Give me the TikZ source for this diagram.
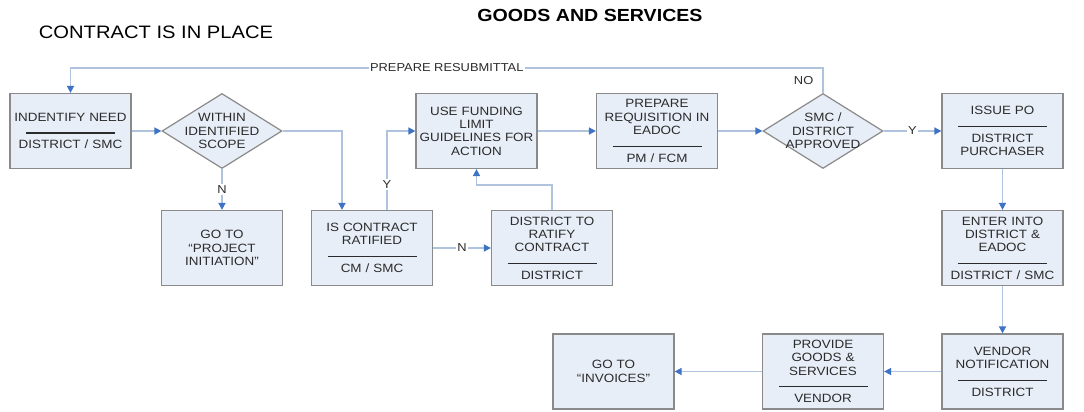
\documentclass[tikz,border=0pt]{standalone}
\usepackage{fontspec}
\setmainfont[FakeStretch=1.12]{Liberation Sans}
\usetikzlibrary{shapes.geometric,arrows.meta}
\definecolor{boxfill}{HTML}{E8EEF7}
\definecolor{boxline}{HTML}{8A8A8A}
\definecolor{flowline}{HTML}{AFC3DE}
\definecolor{tipblue}{HTML}{3D72C4}
\definecolor{txtgray}{HTML}{2B2B2B}
\newcommand{\sepline}{\rule[3pt]{89pt}{1.2pt}}
\tikzstyle{block} = [draw=boxline, fill=boxfill, rectangle, line width=1.2pt, minimum width=121pt, minimum height=75pt, text width=118pt, align=center, inner sep=0pt, font=\fontsize{12}{13.3}\selectfont, text=txtgray]
\tikzstyle{decision} = [draw=boxline, fill=boxfill, diamond, aspect=1.6, line width=1.2pt, minimum width=120pt, minimum height=75pt, inner sep=-4pt, align=center, font=\fontsize{12}{13.3}\selectfont, text=txtgray]
\tikzstyle{flow} = [draw=flowline, line width=1.5pt]
\tikzstyle{answer} = [fill=white, inner sep=1.5pt, font=\fontsize{11.5}{12}\selectfont, text=txtgray]

\begin{document}
\begin{tikzpicture}[x=1pt,y=-1pt,>={Triangle[length=7pt,width=7pt,color=tipblue]}]
	\useasboundingbox (0,0) rectangle (1084,412);
	% titles
	\node [font=\bfseries\fontsize{17.5}{18}\selectfont] (title) at (590,15) {GOODS AND SERVICES};
	\node [font=\fontsize{18}{19}\selectfont] (subtitle) at (156,32) {CONTRACT IS IN PLACE};

	% top row
	\node [block] (need) at (70.5,131) {INDENTIFY NEED\\[2pt]\sepline\\[-1pt]DISTRICT / SMC};
	\node [decision] (scope) at (222,131) {WITHIN\\IDENTIFIED\\SCOPE};
	\node [block] (funding) at (476.5,131) {USE FUNDING\\LIMIT\\GUIDELINES FOR\\ACTION};
	\node [block] (requisition) at (657,131) {PREPARE\\REQUISITION IN\\EADOC\\[2pt]\sepline\\[-1pt]PM / FCM};
	\node [decision] (approved) at (823,131) {SMC /\\DISTRICT\\APPROVED};
	\node [block] (issue) at (1002.5,131) {ISSUE PO\\[2pt]\sepline\\[-1pt]DISTRICT\\PURCHASER};

	% middle row
	\node [block] (project) at (222,248) {GO TO\\“PROJECT\\INITIATION”};
	\node [block] (ratified) at (372,248) {IS CONTRACT\\RATIFIED\\[2pt]\sepline\\[-1pt]CM / SMC};
	\node [block] (ratify) at (552,248) {DISTRICT TO\\RATIFY\\CONTRACT\\[2pt]\sepline\\[-1pt]DISTRICT};
	\node [block] (enter) at (1002.5,248) {ENTER INTO\\DISTRICT \&\\EADOC\\[2pt]\sepline\\[-1pt]DISTRICT / SMC};

	% bottom row
	\node [block] (invoices) at (613.5,371.5) {GO TO\\“INVOICES”};
	\node [block] (provide) at (823,371.5) {PROVIDE\\GOODS \&\\SERVICES\\[2pt]\sepline\\[-1pt]VENDOR};
	\node [block] (vendor) at (1002.5,371.5) {VENDOR\\NOTIFICATION\\[2pt]\sepline\\[-1pt]DISTRICT};

	% connectors
	\draw [flow,->] (need) -- (scope);
	\draw [flow,->] (scope.east) -| ([xshift=-30pt]ratified.north);
	\draw [flow,->] (scope) -- node[answer] {N} (project);
	\draw [flow,->] ([xshift=15pt]ratified.north) |- node[answer,pos=0.16] {Y} (funding.west);
	\draw [flow,->] (ratified) -- node[answer] {N} (ratify);
	\draw [flow,->] (ratify.north) -- ([yshift=25pt]ratify.north) -| (funding.south);
	\draw [flow,->] (funding) -- (requisition);
	\draw [flow,->] (requisition) -- (approved);
	\draw [flow,->] (approved) -- node[answer] {Y} (issue);

	% resubmittal loop
	\draw [flow,->] (approved.north) -- ([yshift=25pt]approved.north) -| node[answer,pos=0.25] {PREPARE RESUBMITTAL} (need.north);
	\node [answer,fill=none,anchor=east] (no) at ([xshift=-8pt,yshift=12pt]approved.north) {NO};

	% down the right side and back
	\draw [flow,->] (issue) -- (enter);
	\draw [flow,->] (enter) -- (vendor);
	\draw [flow,->] (vendor) -- (provide);
	\draw [flow,->] (provide) -- (invoices);
\end{tikzpicture}
\end{document}
